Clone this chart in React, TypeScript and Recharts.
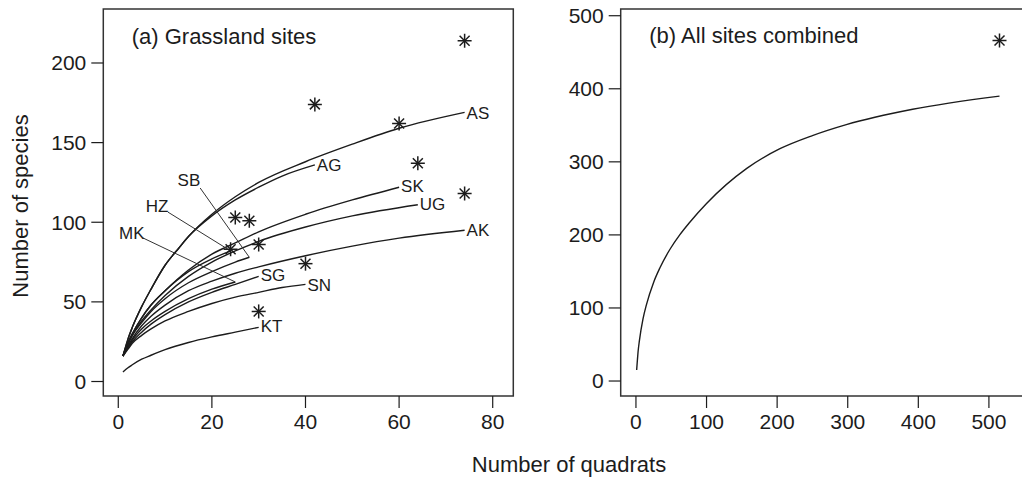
import React from 'react'
import { ComposedChart, Line, Scatter, XAxis, YAxis, ReferenceArea } from 'recharts'

// rarefaction curves per site, [quadrats, species]
const curveAS = [[1, 16], [2, 26], [3, 34], [5, 47], [7, 58], [10, 73], [13, 84], [15, 91], [20, 105], [25, 116], [30, 125], [40, 138], [50, 149], [60, 159], [74, 169]]
const curveAG = [[1, 16], [2, 26], [3, 34], [5, 47], [7, 58], [10, 73], [13, 84], [15, 91], [20, 104], [25, 114], [30, 122], [35, 129], [42, 136]]
const curveSK = [[1, 16], [2, 24], [3, 30], [5, 40], [7, 48], [10, 57], [15, 70], [20, 80], [25, 87], [30, 94], [40, 105], [50, 114], [60, 122]]
const curveUG = [[1, 16], [2, 23], [3, 29], [5, 38], [7, 45], [10, 54], [15, 66], [20, 75], [25, 82], [30, 88], [40, 97], [50, 104], [64, 111]]
const curveHZ = [[1, 16], [2, 24], [3, 30], [5, 40], [7, 48], [10, 57], [15, 69], [20, 77], [24, 82]]
const curveSB = [[1, 16], [2, 23], [3, 29], [5, 37], [7, 44], [10, 52], [15, 62], [20, 69], [25, 75], [28, 78]]
const curveAK = [[1, 16], [2, 22], [3, 27], [5, 35], [7, 41], [10, 48], [15, 57], [20, 63], [25, 68], [30, 72], [40, 79], [50, 85], [60, 90], [74, 95]]
const curveMK = [[1, 16], [2, 21], [3, 26], [5, 33], [7, 38], [10, 44], [15, 52], [20, 58], [25, 62.5]]
const curveSG = [[1, 16], [2, 21], [3, 25], [5, 31], [7, 36], [10, 42], [15, 50], [20, 56], [25, 61], [30, 66]]
const curveSN = [[1, 16], [2, 20], [3, 24], [5, 29], [7, 33], [10, 38], [15, 44], [20, 49], [25, 53], [30, 56], [35, 59], [40, 61]]
const curveKT = [[1, 6], [2, 8.5], [3, 10.5], [5, 14], [7, 16.5], [10, 20], [15, 24.5], [20, 28], [25, 31], [30, 34]]

// observed totals (asterisks)
const starQuadrats = [74, 42, 60, 64, 74, 25, 28, 30, 24, 40, 30]
const starSpecies = [214, 174, 162, 137, 118, 103, 101, 86, 83, 74, 44]

// site labels placed at curve ends
const endLabels = ['AS', 'AG', 'SK', 'UG', 'AK', 'SG', 'SN', 'KT']
const endLabelQ = [74, 42, 60, 64, 74, 30, 40, 30]
const endLabelS = [168.5, 135.5, 122.5, 111, 95, 66.5, 60.5, 34.5]

// labels with leader lines
const sideLabels = ['SB', 'HZ', 'MK']
const sideLabelQ = [15.1, 8.3, 2.9]
const sideLabelS = [126.5, 109.6, 93.2]
const leaderSB = [[17.5, 121.5], [28, 78]]
const leaderHZ = [[10.6, 106.4], [24, 82]]
const leaderMK = [[5.3, 90.1], [25, 62.5]]

// all sites combined
const curveAll = [[1, 15], [2, 28], [3, 40], [5, 56], [10, 85], [15, 105], [25, 135], [34, 155], [48, 180], [62, 200], [76, 217], [100, 243], [157, 291], [204, 318], [250, 336], [298, 351], [392, 372], [515, 390]]
const starAllQ = [515]
const starAllS = [466]

const ink = '#1c1c1c'
const font = '"Liberation Sans", Arial, sans-serif'

const pts = (arr: number[][]) => arr.map(([x, y]) => ({ x, y }))

const Asterisk = (props: any) => {
    const { cx, cy } = props
    if (cx == null || cy == null) return null
    return (
        <g stroke={ink} strokeWidth={1.5}>
            <line x1={cx - 7} y1={cy} x2={cx + 7} y2={cy} />
            <line x1={cx} y1={cy - 7} x2={cx} y2={cy + 7} />
            <line x1={cx - 5} y1={cy - 5} x2={cx + 5} y2={cy + 5} />
            <line x1={cx - 5} y1={cy + 5} x2={cx + 5} y2={cy - 5} />
        </g>
    )
}

const EndText = (props: any) => {
    const { cx, cy, payload } = props
    return (
        <text x={cx + 2} y={cy} dominantBaseline="central" fontSize={17} fontFamily={font} fill={ink}>
            {payload.name}
        </text>
    )
}

const MidText = (props: any) => {
    const { cx, cy, payload } = props
    return (
        <text x={cx} y={cy} dominantBaseline="central" textAnchor="middle" fontSize={17} fontFamily={font} fill={ink}>
            {payload.name}
        </text>
    )
}

const tickStyle = { fontSize: 21, fontFamily: font, fill: ink }

const siteCurves = [curveAS, curveAG, curveSK, curveUG, curveHZ, curveSB, curveAK, curveMK, curveSG, curveSN, curveKT]
const leaders = [leaderSB, leaderHZ, leaderMK]

const GrasslandPanel = () => {
    const stars = starQuadrats.map((x, i) => ({ x, y: starSpecies[i] }))
    const ends = endLabels.map((name, i) => ({ x: endLabelQ[i], y: endLabelS[i], name }))
    const sides = sideLabels.map((name, i) => ({ x: sideLabelQ[i], y: sideLabelS[i], name }))
    return (
        <ComposedChart width={540} height={477} margin={{ top: 9, right: 26.7, bottom: 0, left: 0 }}>
            <XAxis type="number" dataKey="x" domain={[-3.2, 84.4]} ticks={[0, 20, 40, 60, 80]} allowDataOverflow
                axisLine={false} tickLine={{ stroke: ink, strokeWidth: 1.2 }} tickSize={12} tickMargin={6} height={81} tick={tickStyle} />
            <YAxis type="number" dataKey="y" domain={[-9.1, 233.9]} ticks={[0, 50, 100, 150, 200]} allowDataOverflow
                axisLine={false} tickLine={{ stroke: ink, strokeWidth: 1.2 }} tickSize={12} tickMargin={5} width={103.3} tick={tickStyle} />
            <ReferenceArea x1={-3.2} x2={84.4} y1={-9.1} y2={233.9} fill="none" stroke="#333" strokeWidth={1.5} />
            {siteCurves.map((c, i) => (
                <Line key={'c' + i} data={pts(c)} dataKey="y" type="monotone" stroke={ink} strokeWidth={1.4} dot={false} isAnimationActive={false} />
            ))}
            {leaders.map((c, i) => (
                <Line key={'l' + i} data={pts(c)} dataKey="y" type="linear" stroke="#333" strokeWidth={1} dot={false} isAnimationActive={false} />
            ))}
            <Scatter data={stars} dataKey="y" shape={<Asterisk />} isAnimationActive={false} />
            <Scatter data={ends} dataKey="y" shape={<EndText />} isAnimationActive={false} />
            <Scatter data={sides} dataKey="y" shape={<MidText />} isAnimationActive={false} />
        </ComposedChart>
    )
}

const CombinedPanel = () => {
    const stars = starAllQ.map((x, i) => ({ x, y: starAllS[i] }))
    return (
        <ComposedChart width={500} height={477} margin={{ top: 9, right: 7.6, bottom: 0, left: 0 }}>
            <XAxis type="number" dataKey="x" domain={[-21.6, 561.6]} ticks={[0, 100, 200, 300, 400, 500]} allowDataOverflow
                axisLine={false} tickLine={{ stroke: ink, strokeWidth: 1.2 }} tickSize={12} tickMargin={6} height={81} tick={tickStyle} />
            <YAxis type="number" dataKey="y" domain={[-20.5, 509.2]} ticks={[0, 100, 200, 300, 400, 500]} allowDataOverflow
                axisLine={false} tickLine={{ stroke: ink, strokeWidth: 1.2 }} tickSize={12} tickMargin={5} width={80.7} tick={tickStyle} />
            <ReferenceArea x1={-21.6} x2={561.6} y1={-20.5} y2={509.2} fill="none" stroke="#333" strokeWidth={1.5} />
            <Line data={pts(curveAll)} dataKey="y" type="monotone" stroke={ink} strokeWidth={1.4} dot={false} isAnimationActive={false} />
            <Scatter data={stars} dataKey="y" shape={<Asterisk />} isAnimationActive={false} />
        </ComposedChart>
    )
}

export default function App() {
    return (
        <div style={{ position: 'fixed', left: 0, top: 0, width: 1022, height: 477, overflow: 'hidden', background: '#fff' }}>
            <div style={{ position: 'absolute', left: 0, top: 0 }}>
                <GrasslandPanel />
            </div>
            <div style={{ position: 'absolute', left: 540, top: 0 }}>
                <CombinedPanel />
            </div>
            <svg width={1022} height={477} style={{ position: 'absolute', left: 0, top: 0, pointerEvents: 'none' }}>
                <g fontFamily={font} fill={ink} fontSize={22}>
                    <text x={131.7} y={44}>(a) Grassland sites</text>
                    <text x={649.3} y={43}>(b) All sites combined</text>
                    <text x={569} y={472} textAnchor="middle">Number of quadrats</text>
                    <text transform="translate(28,206) rotate(-90)" textAnchor="middle">Number of species</text>
                </g>
            </svg>
        </div>
    )
}
